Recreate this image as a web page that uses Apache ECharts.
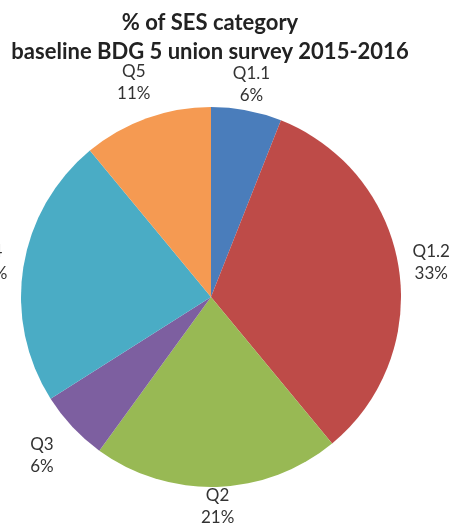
<!DOCTYPE html>
<html>
<head>
<meta charset="utf-8">
<script src="https://cdn.jsdelivr.net/npm/echarts@6/dist/echarts.min.js"></script>
<style>
  html, body { margin: 0; padding: 0; background: #fff; }
  #main { width: 456px; height: 527px; }
</style>
</head>
<body>
<div id="main"></div>
<script>
// data
const categories = ["Q1.1", "Q1.2", "Q2", "Q3", "Q4", "Q5"];
const shares = [6, 33, 21, 6, 23, 11];
const colors = ["#4A7DBB", "#BE4B48", "#98B954", "#7D5FA0", "#4AACC5", "#F59A52"];

// how far from the pie centre each label block sits (Excel "outside end" look)
const labelDist = [216, 223, 210, 232, 223, 228];

const pieCenter = [211, 297];
const pieData = categories.map((name, i) => ({ name: name, value: shares[i] }));

const option = {
  color: colors,
  title: {
    text: "% of SES category\nbaseline BDG 5 union survey 2015-2016",
    left: 205,
    top: 3,
    textAlign: "center",
    textStyle: {
      fontFamily: "Lato",
      fontWeight: "bold",
      fontSize: 22,
      lineHeight: 29,
      color: "#222",
    },
  },
  series: [
    {
      type: "pie",
      center: pieCenter,
      radius: 190,
      startAngle: 90,
      clockwise: true,
      silent: true,
      label: {
        show: true,
        position: "inside",
        formatter: "{b}\n{c}%",
        fontFamily: "Lato",
        fontSize: 17,
        lineHeight: 22,
        color: "#333",
      },
      labelLine: { show: false },
      // push the inside labels out along their own direction
      labelLayout: function (params) {
        const r = params.labelRect;
        const cx = r.x + r.width / 2;
        const cy = r.y + r.height / 2;
        const dx = cx - pieCenter[0];
        const dy = cy - pieCenter[1];
        const len = Math.sqrt(dx * dx + dy * dy) || 1;
        const d = labelDist[params.dataIndex];
        return {
          x: pieCenter[0] + (dx / len) * d,
          y: pieCenter[1] + (dy / len) * d,
          align: "center",
          verticalAlign: "middle",
        };
      },
      data: pieData,
    },
  ],
};

const myChart = echarts.init(document.getElementById("main"));
myChart.setOption(option);
</script>
</body>
</html>
